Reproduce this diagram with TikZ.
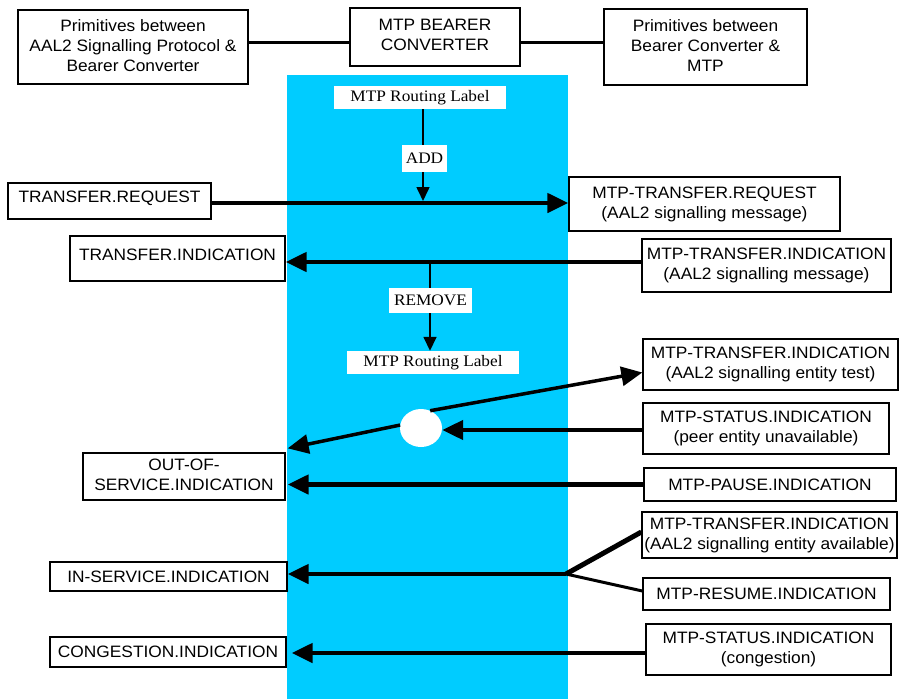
\documentclass[tikz,border=0pt]{standalone}
\usepackage{fontspec}
\setmainfont{Liberation Sans}[FakeStretch=1.05]
\newfontfamily\tms{Liberation Serif}[FakeStretch=1.08]
\usetikzlibrary{arrows.meta,shapes.geometric}
\definecolor{cyanbg}{HTML}{00CCFF}
\begin{document}
\begin{tikzpicture}[x=1pt,y=-1pt,
  box/.style={draw=black,line width=1.3pt,fill=white,inner sep=0pt,align=center,
    font=\fontsize{16.5}{20}\selectfont},
  lbl/.style={fill=white,inner sep=0pt,font=\tms\fontsize{16}{18}\selectfont},
  bigarrow/.style={line width=4.5pt,-{Triangle[length=21pt,width=19pt]}},
  thinarrow/.style={line width=1.6pt,-{Triangle[length=14pt,width=13pt]}},
  link/.style={line width=3pt}]
\useasboundingbox (0,0) rectangle (900,699);
\fill[cyanbg] (287,75) rectangle (568,699);
% top boxes
\node[box,minimum width=230pt,minimum height=74pt] (lt) at (133,47)
  {Primitives between\\AAL2 Signalling Protocol \&\\Bearer Converter\vphantom{g}};
\node[box,minimum width=170pt,minimum height=58pt] (mid) at (435,37)
  {MTP BEARER\\CONVERTER\vphantom{g}};
\node[box,minimum width=203pt,minimum height=76pt] (rt) at (705.5,47)
  {Primitives between\\Bearer Converter \&\\MTP\vphantom{g}};
\draw[link] ([yshift=5pt]lt.east) -- ([yshift=-5pt]mid.west);
\draw[link] ([yshift=-5pt]mid.east) -- ([yshift=5pt]rt.west);
% left boxes
\node[box,minimum width=203pt,minimum height=36pt,text depth=8pt] (treq) at (109.5,201) {TRANSFER.REQUEST};
\node[box,minimum width=215pt,minimum height=45pt,text depth=8pt] (tind) at (177.5,258.5) {TRANSFER.INDICATION};
\node[box,minimum width=202pt,minimum height=47pt] (oos) at (184,476.5) {OUT-OF-\\SERVICE.INDICATION\vphantom{g}};
\node[box,minimum width=237pt,minimum height=29pt] (ins) at (168.5,576.5) {IN-SERVICE.INDICATION};
\node[box,minimum width=236pt,minimum height=30pt] (congind) at (168,652) {CONGESTION.INDICATION};
% right boxes
\node[box,minimum width=271pt,minimum height=54pt] (mtreq) at (704.5,204)
  {MTP-TRANSFER.REQUEST\\(AAL2 signalling message)};
\node[box,minimum width=249pt,minimum height=53pt] (mtind) at (766.5,265.5)
  {MTP-TRANSFER.INDICATION\\(AAL2 signalling message)};
\node[box,minimum width=255pt,minimum height=51pt] (test) at (770.5,364.5)
  {MTP-TRANSFER.INDICATION\\(AAL2 signalling entity test)};
\node[box,minimum width=246pt,minimum height=51pt] (status) at (766,428.5)
  {MTP-STATUS.INDICATION\\(peer entity unavailable)};
\node[box,minimum width=252pt,minimum height=33pt] (pause) at (770,484.5) {MTP-PAUSE.INDICATION};
\node[box,minimum width=255pt,minimum height=46pt] (avail) at (769.5,535)
  {MTP-TRANSFER.INDICATION\\(AAL2 signalling entity available)};
\node[box,minimum width=247pt,minimum height=32pt] (resume) at (766.5,594) {MTP-RESUME.INDICATION};
\node[box,minimum width=245pt,minimum height=51pt] (stcong) at (768.5,649.5)
  {MTP-STATUS.INDICATION\\(congestion)};
% routing labels
\node[lbl,minimum width=172pt,minimum height=23pt] (rl1) at (420,97.5) {MTP Routing Label};
\node[lbl,minimum width=172pt,minimum height=23pt] (rl2) at (433,362.5) {MTP Routing Label};
% ADD path
\coordinate (addtip) at (423,201);
\draw[thinarrow] (rl1.south -| addtip) -- (addtip);
\node[lbl,minimum width=45pt,minimum height=27pt] (add) at (424.5,158.5) {ADD};
% transfer request
\draw[bigarrow] ([yshift=-2pt]treq.east) -- ([yshift=-2pt]treq.east -| mtreq.west);
% transfer indication
\draw[bigarrow] ([yshift=3.5pt]mtind.west) -- ([yshift=3.5pt]mtind.west -| tind.east);
% REMOVE path
\coordinate (remtop) at (430,262);
\draw[thinarrow] (remtop) -- (remtop |- rl2.north);
\node[lbl,minimum width=83pt,minimum height=25pt] (remove) at (430.5,300.5) {REMOVE};
% circle
\node[ellipse,fill=white,minimum width=42pt,minimum height=38pt,inner sep=0pt] (circ) at (421,428) {};
\draw[line width=3.5pt,-{Triangle[length=21pt,width=19pt]}] (circ.62) -- ([yshift=-8pt]test.west);
\draw[line width=3.5pt,-{Triangle[length=21pt,width=19pt]}] (circ.172) -- ([xshift=2pt,yshift=4pt]oos.north east);
\draw[bigarrow] ([yshift=-1.5pt]status.west) -- ([yshift=-1.5pt]status.west -| circ.east);
% pause
\draw[bigarrow] (pause.west) -- ([xshift=2pt]pause.west -| oos.east);
% in-service junction
\coordinate (j) at (566,574);
\draw[line width=5pt] ([yshift=3pt]avail.west) -- (j);
\draw[line width=3pt] ([yshift=3pt]resume.west) -- (j);
\draw[bigarrow] (j) -- (j -| ins.east);
% congestion
\draw[bigarrow] ([yshift=-3.5pt]stcong.west) -- ([xshift=5pt,yshift=-3.5pt]stcong.west -| congind.east);
\end{tikzpicture}
\end{document}
